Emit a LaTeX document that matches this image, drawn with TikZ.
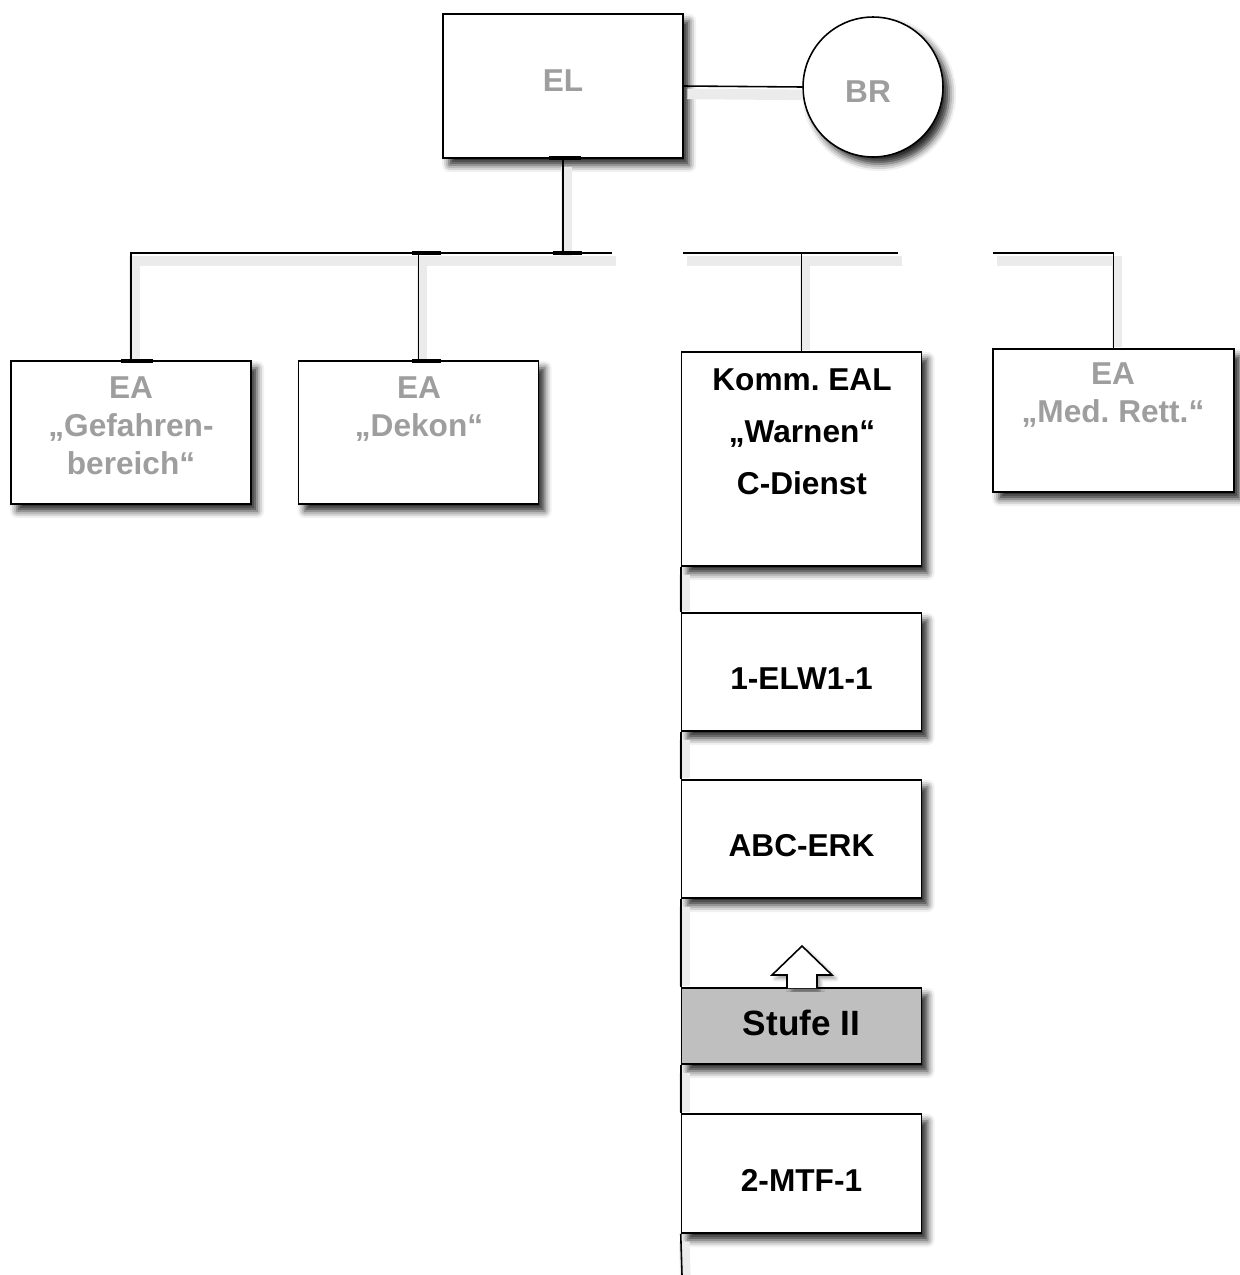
\documentclass[tikz,border=0pt]{standalone}
\usepackage{fontspec}
\setmainfont{Liberation Sans}
\frenchspacing
\usetikzlibrary{shadows.blur}

\tikzset{
    unit/.style={draw=black, line width=0.9pt, fill=white, minimum width=4.8cm,
        blur shadow={shadow xshift=3.5pt, shadow yshift=-4pt,
            shadow blur radius=4pt, shadow opacity=85}},
    wire/.style={line width=0.9pt,
        preaction={draw=black!8, line width=6pt,
            transform canvas={xshift=2pt, yshift=-4.5pt}, #1}},
    wire/.default={},
    tab/.style={line width=2.5pt},
    dimlabel/.style={text=black!38, align=center,
        font=\bfseries\fontsize{18}{21.5}\selectfont},
    unitlabel/.style={align=center, font=\bfseries\fontsize{18}{29.5}\selectfont}
}

\begin{document}
\begin{tikzpicture}[x=0.02cm, y=-0.02cm]
        \useasboundingbox (0, 0) rectangle (1240, 1275);

        % bus line between the leadership and the sections
        \coordinate (busA) at (612, 253);
        \coordinate (busB) at (683, 253);
        \coordinate (busC) at (898, 253);
        \coordinate (busD) at (993, 253);
        \coordinate (bottom) at (682, 1275);

        % boxes (drawn empty, labels come later)
        \node[unit, minimum height=2.88cm] (el) at (563, 86) {};
        \node[unit, circle, minimum size=2.8cm] (br) at (873, 87) {};
        \node[unit, minimum height=2.86cm] (gef) at (131, 432.5) {};
        \node[unit, minimum height=2.86cm] (dekon) at (418.5, 432.5) {};
        \node[unit, minimum height=4.28cm] (komm) at (801.5, 459) {};
        \node[unit, minimum width=4.82cm, minimum height=2.86cm] (med) at (1113.5, 420.5) {};

        % the column below "Warnen"
        \node[unit, minimum height=2.36cm] (elw) at (801.5, 672) {};
        \node[unit, minimum height=2.36cm] (erk) at (801.5, 839) {};
        \node[unit, minimum height=1.52cm, fill=black!25] (stufe) at (801.5, 1026) {};
        \node[unit, minimum height=2.38cm] (mtf) at (801.5, 1173.5) {};

        % connectors
        \draw[wire={shorten >=2pt}] (el.east) -- (br.west);
        \draw[wire] (el.south) -- (el.south |- busA);
        \draw[wire={shorten <=5pt}] (gef.north) |- (busA);
        \draw[wire={shorten <=5pt}] (dekon.north) -- (dekon.north |- busA);
        \draw[wire] (busB) -- (busC);
        \draw[wire={shorten <=5pt}] (komm.north) -- (komm.north |- busB);
        \draw[wire={shorten >=5pt}] (busD) -| (med.north);
        \foreach \a/\b in {komm/elw, elw/erk, erk/stufe, stufe/mtf}
            \draw[wire={shorten >=5pt}] (\a.south west) -- (\b.north west);
        \draw[wire] (mtf.south west) -- (bottom);

        \draw[tab] (549, 158) -- (581, 158);
        \draw[tab] (553, 253) -- (582, 253);
        \draw[tab] (412, 253) -- (441, 253);
        \draw[tab] (121, 361) -- (153, 361);
        \draw[tab] (412, 361) -- (441, 361);

        \filldraw[line width=0.9pt, fill=white,
            blur shadow={shadow xshift=2pt, shadow yshift=-2pt, shadow opacity=40}]
            (787, 988) -- (787, 975) -- (772, 975) -- (802, 946)
            -- (832, 975) -- (817, 975) -- (817, 988);

        % labels
        \node[dimlabel] (eltxt) at (563, 81) {EL};
        \node[dimlabel] (brtxt) at (868, 92) {BR};
        \node[dimlabel] (geftxt) at (131, 426) {EA\\„Gefahren-\\bereich“};
        \node[dimlabel] (dekontxt) at (419, 409) {EA\\„Dekon“};
        \node[dimlabel] (medtxt) at (1113, 395) {EA\\„Med. Rett.“};
        \node[unitlabel] (kommtxt) at (802, 432) {Komm. EAL\\„Warnen“\\C-Dienst};
        \node[unitlabel] at (elw) [yshift=-4pt] {1-ELW1-1};
        \node[unitlabel] at (erk) [yshift=-4pt] {ABC-ERK};
        \node[unitlabel, font=\bfseries\fontsize{20}{24}\selectfont] at (stufe) [yshift=2pt] {Stufe II};
        \node[unitlabel] at (mtf) [yshift=-4pt] {2-MTF-1};
    \end{tikzpicture}
\end{document}
